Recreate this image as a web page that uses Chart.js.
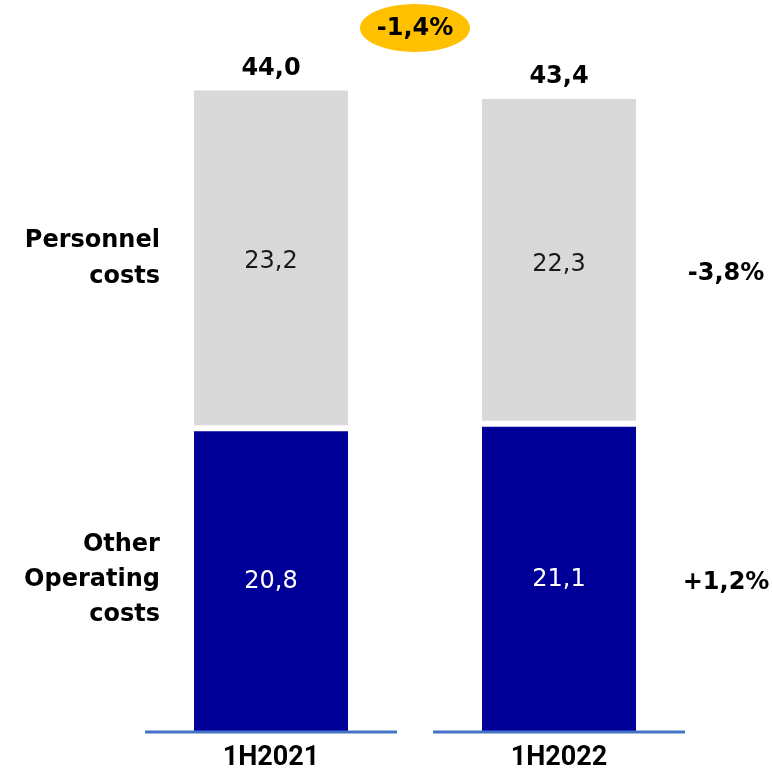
<!DOCTYPE html>
<html>
<head>
<meta charset="utf-8">
<script src="https://cdn.jsdelivr.net/npm/chart.js@4.4.0/dist/chart.umd.min.js"></script>
<style>
  html, body { margin: 0; padding: 0; background: #fff; }
  #wrap { width: 772px; height: 776px; }
</style>
</head>
<body>
<div id="wrap"><canvas id="costChart" width="772" height="776"></canvas></div>
<script>
const categories = ['1H2021', '1H2022']
const otherOperating = [20.8, 21.1]
const personnel = [23.2, 22.3]
const totals = [44.0, 43.4]
const otherLabel = ['Other', 'Operating', 'costs']
const personnelLabel = ['Personnel', 'costs']
const otherChange = '+1,2%'
const personnelChange = '-3,8%'
const totalChange = '-1,4%'

const fmt = v => v.toFixed(1).replace('.', ',')
const BOLD = 'bold 24px "DejaVu Sans"'

const annotate = {
  id: 'annotate',
  afterDatasetsDraw(chart) {
    const ctx = chart.ctx
    const x = chart.scales.x
    const y = chart.scales.y
    const base = y.getPixelForValue(0)
    const lowMeta = chart.getDatasetMeta(0)
    const highMeta = chart.getDatasetMeta(1)
    ctx.save()

    // axis line segments under each category
    ctx.strokeStyle = '#4472C4'
    ctx.lineWidth = 3
    categories.forEach((c, i) => {
      const cx = x.getPixelForValue(i)
      ctx.beginPath()
      ctx.moveTo(cx - 126, base + 1)
      ctx.lineTo(cx + 126, base + 1)
      ctx.stroke()
    })

    ctx.textAlign = 'center'
    ctx.textBaseline = 'middle'

    // category labels
    ctx.fillStyle = '#000'
    ctx.font = 'bold 27px Roboto'
    categories.forEach((c, i) => {
      ctx.fillText(c, x.getPixelForValue(i), base + 27)
    })

    // values inside bars
    ctx.font = '24px "DejaVu Sans"'
    lowMeta.data.forEach((bar, i) => {
      ctx.fillStyle = '#ffffff'
      ctx.fillText(fmt(otherOperating[i]), bar.x, (bar.y + bar.base) / 2 + 2)
    })
    highMeta.data.forEach((bar, i) => {
      ctx.fillStyle = '#1a1a1a'
      ctx.fillText(fmt(personnel[i]), bar.x, (bar.y + bar.base) / 2 + 3)
    })

    // totals
    ctx.font = BOLD
    ctx.fillStyle = '#000'
    highMeta.data.forEach((bar, i) => {
      ctx.fillText(fmt(totals[i]), bar.x, y.getPixelForValue(totals[i]) - 22)
    })

    // series names on the left
    const firstLow = lowMeta.data[0]
    const firstHigh = highMeta.data[0]
    const leftX = firstLow.x - firstLow.width / 2 - 34
    ctx.textAlign = 'right'
    const drawLines = (lines, cy, lh) => {
      const start = cy - (lines.length - 1) * lh / 2
      lines.forEach((t, k) => ctx.fillText(t, leftX, start + k * lh))
    }
    drawLines(personnelLabel, (firstHigh.y + firstHigh.base) / 2, 36)
    drawLines(otherLabel, (firstLow.y + firstLow.base) / 2, 35)

    // change percentages on the right
    const lastLow = lowMeta.data[1]
    const lastHigh = highMeta.data[1]
    const rightX = lastLow.x + lastLow.width / 2 + 90
    ctx.textAlign = 'center'
    ctx.fillText(personnelChange, rightX, (lastHigh.y + lastHigh.base) / 2 + 12)
    ctx.fillText(otherChange, rightX, (lastLow.y + lastLow.base) / 2 + 5)

    // total change bubble
    const mx = (x.getPixelForValue(0) + x.getPixelForValue(1)) / 2
    const my = 28
    ctx.fillStyle = '#FFC000'
    ctx.beginPath()
    ctx.ellipse(mx, my, 55, 24, 0, 0, Math.PI * 2)
    ctx.fill()
    ctx.fillStyle = '#000'
    ctx.fillText(totalChange, mx, my + 1)

    ctx.restore()
  }
}

new Chart(document.getElementById('costChart').getContext('2d'), {
  type: 'bar',
  data: {
    labels: categories,
    datasets: [
      {
        label: 'Other Operating costs',
        data: otherOperating,
        backgroundColor: '#000099',
        borderColor: '#ffffff',
        borderWidth: { top: 3, bottom: 0, left: 0, right: 0 },
        borderSkipped: false,
        categoryPercentage: 1,
        barPercentage: 0.535,
      },
      {
        label: 'Personnel costs',
        data: personnel,
        backgroundColor: '#D9D9D9',
        borderColor: '#ffffff',
        borderWidth: { top: 0, bottom: 3, left: 0, right: 0 },
        borderSkipped: false,
        categoryPercentage: 1,
        barPercentage: 0.535,
      },
    ],
  },
  options: {
    responsive: false,
    animation: false,
    layout: { padding: { left: 127, right: 69, top: 3, bottom: 45 } },
    plugins: { legend: { display: false }, tooltip: { enabled: false } },
    scales: {
      x: { stacked: true, display: false },
      y: { stacked: true, display: false, min: 0, max: 50 },
    },
  },
  plugins: [annotate],
})
</script>
</body>
</html>
